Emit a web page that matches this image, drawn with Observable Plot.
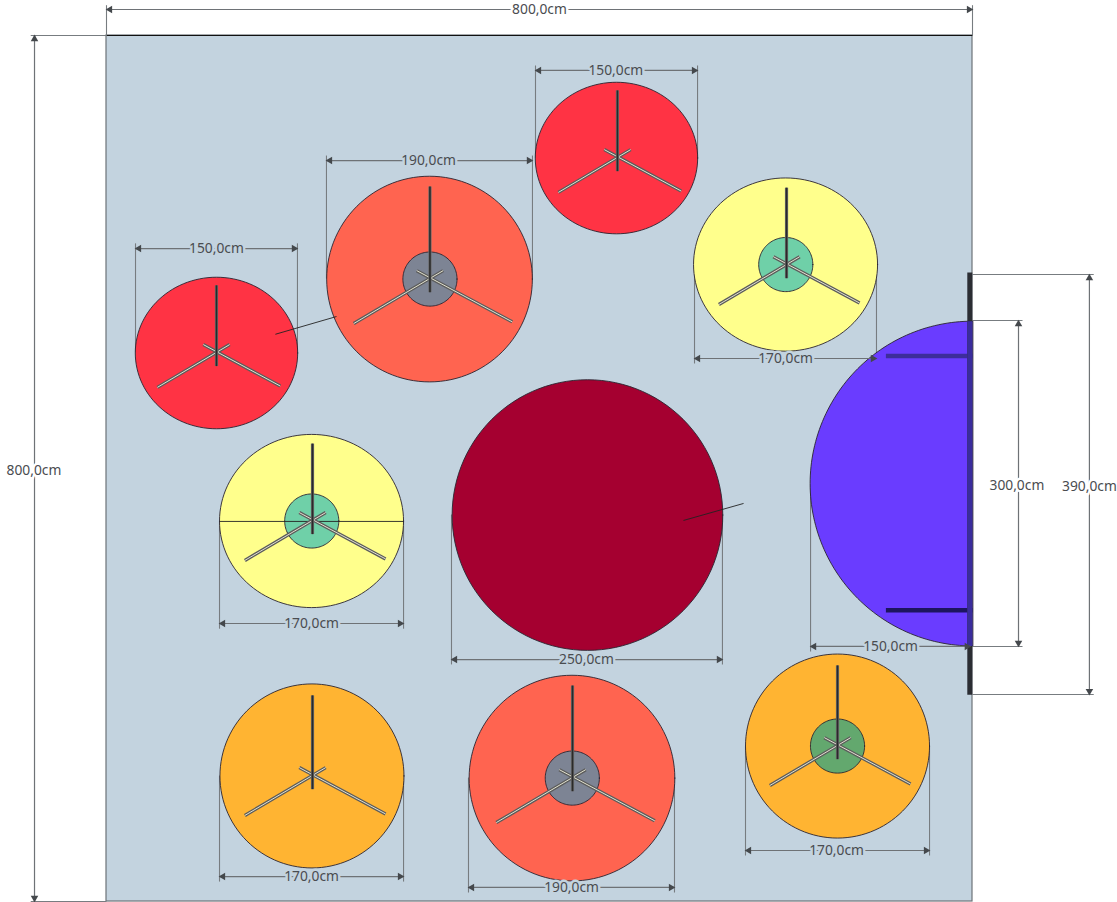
<!DOCTYPE html>
<html><head><meta charset="utf-8">
<script src="https://cdn.jsdelivr.net/npm/d3@7"></script>
<script src="https://cdn.jsdelivr.net/npm/@observablehq/plot@0.6"></script>
<style>html,body{margin:0;padding:0;background:#fff}svg{display:block}</style>
</head><body><div id="chart"></div>
<script>
// All plan values are centimetres on the 800 x 800 floor.
const floorSize = 800;
const plantKind = ["red","coral","red","yellow","yellow","maroon","orange","coral","orange"];
const plantCx   = [101.6,298.4,471.1,627.3,189.4,444.3,189.8,430,675.3];
const plantCy   = [293.3,225,113.2,211.6,448.5,443,684,686,656.4];
const plantRx   = [75,95,75,85,85,125,85,95,85];
const plantRy   = [70,95,70,80,80,125,85,95,85];

const hubKind = ["grey","green","green","grey","darkgreen"];
const hubCx   = [298.8,627.5,189.6,430.3,675.3];
const hubCy   = [225,211.6,448.5,686,656.4];
const hubR    = [25,25,25,25,25];

const standX   = [101.6,298.8,472,628.2,190.3,190.3,430.5,675.3];
const standY   = [292.8,224.5,112.7,211.6,448,683.6,685.5,655.9];
const standUp  = [62,85,62,71,71,74,85,74];
const standLen = [62,80,62,71,71,71,80,71];

const stageCentre = [800,413.9], stageRadius = 150;
const wallSpan = [219,609];
const stageBeams = [[720,800,296],[720,800,531]];

// dimension lines: [x1,y1,x2,y2,labelX,labelY,label,outside]
const dimensions = [
 [0,-24,800,-24,400,-24,"800,0cm",1],
 [-66.5,0,-66.5,800,-67,402,"800,0cm",1],
 [396.3,32.3,546,32.3,470.5,32.3,"150,0cm",0],
 [203.2,115.5,393.5,115.5,297.5,115.5,"190,0cm",0],
 [26.8,196.8,176.4,196.8,101.6,196.8,"150,0cm",0],
 [543.2,298.4,711.3,298.4,627.3,298.4,"170,0cm",0],
 [104.4,543.2,274.4,543.2,189.4,543.2,"170,0cm",0],
 [318.7,576.5,569,576.5,443.4,576.5,"250,0cm",0],
 [104.4,777,274.4,777,189.4,777,"170,0cm",0],
 [334.4,787,524.7,787,429.6,787,"190,0cm",0],
 [590.3,752.9,760.3,752.9,674.4,752.9,"170,0cm",0],
 [650.4,564.4,798,564.4,724.3,564.4,"150,0cm",0],
 [842.5,263.3,842.5,564.4,841,415.7,"300,0cm",1],
 [908,220.8,908,608.8,908,416.6,"390,0cm",1]
];
// extension lines: [x1,y1,x2,y2]
const extensions = [
 [0,-28,0,0],[800,-28,800,0],[-70,0,0,0],[-70,800,0,800],
 [396.3,27.7,396.3,113],[546,27.7,546,113],
 [203.2,110.9,203.2,224.5],[393.5,110.9,393.5,224.5],
 [26.8,192,26.8,293],[176.4,192,176.4,293],
 [543.2,211.6,543.2,303],[711.3,211.6,711.3,303],
 [104.4,448.5,104.4,548],[274.4,448.5,274.4,548],
 [318.7,442.5,318.7,581],[569,442.5,569,581],
 [104.4,683.6,104.4,781.6],[274.4,683.6,274.4,781.6],
 [334.4,685.5,334.4,791.7],[524.7,685.5,524.7,791.7],
 [590.3,656,590.3,757.5],[760.3,656,760.3,757.5],
 [650.4,413.9,650.4,569],
 [800,263.3,846.2,263.3],[800,564.4,846.2,564.4],
 [800,220.8,912,220.8],[800,608.8,912,608.8]
];
// thin black leaders and the chord drawn across one plant
const leaders = [[156,276,212.5,259.6],[533,448,588.5,432.3],[104.4,448.9,274.4,448.9]];

const palette = {red:"#ff3344",coral:"#ff6450",yellow:"#ffff8c",maroon:"#a50030",orange:"#ffb432",
  grey:"#7d8494",green:"#6fd0a8",darkgreen:"#63a86e",stage:"#6a3cff"};

function outline(id,kind,cx,cy,rx,ry,a0=0,a1=360){
  const n=120, pts=[];
  for(let i=0;i<=n;i++){const a=(a0+(a1-a0)*i/n)*Math.PI/180;
    pts.push({id,color:palette[kind],x:cx+rx*Math.cos(a),y:cy+ry*Math.sin(a)});}
  return pts;
}
const shapes = [
  ...outline("stage","stage",stageCentre[0],stageCentre[1],stageRadius,stageRadius,90,270),
  ...plantKind.flatMap((k,i)=>outline("p"+i,k,plantCx[i],plantCy[i],plantRx[i],plantRy[i])),
  ...hubKind.flatMap((k,i)=>outline("h"+i,k,hubCx[i],hubCy[i],hubR[i],hubR[i]))
];
const tail = 14;
const uprights = standX.map((x,i)=>({x1:x,y1:standY[i]+tail*0.9,x2:x,y2:standY[i]-standUp[i]}));
const braces = standX.flatMap((x,i)=>{const L=standLen[i],y=standY[i];return [
  {x1:x+0.87*tail,y1:y-0.52*tail,x2:x-0.88*L,y2:y+0.52*L},
  {x1:x-0.87*tail,y1:y-0.52*tail,x2:x+0.95*L,y2:y+0.5*L}];});

const toLink = a => ({x1:a[0],y1:a[1],x2:a[2],y2:a[3]});
const dims = dimensions.map(d=>({x1:d[0],y1:d[1],x2:d[2],y2:d[3],lx:d[4],ly:d[5],label:d[6],bg:d[7]?"#ffffff":"#c3d3df"}));
const heads = dimensions.flatMap(d=>{
  const o=3.2;
  return d[1]===d[3]
    ? [{x:d[0]+o,y:d[1],r:-90},{x:d[2]-o,y:d[3],r:90}]
    : [{x:d[0],y:d[1]+o,r:0},{x:d[2],y:d[3]-o,r:180}];
});
const L = (data,o)=>Plot.link(data,{x1:"x1",y1:"y1",x2:"x2",y2:"y2",...o});
const beam = b=>({x1:b[0],x2:b[1],y1:b[2],y2:b[2]});

const chart = Plot.plot({
  width:1117,height:902,margin:0,
  style:{background:"transparent"},
  x:{domain:[0,floorSize],range:[106,972],axis:null},
  y:{domain:[0,floorSize],range:[35,901],axis:null},
  color:{type:"identity"},
  marks:[
    Plot.rect([{x1:0,x2:floorSize,y1:0,y2:floorSize}],{x1:"x1",x2:"x2",y1:"y1",y2:"y2",fill:"#c3d3df",stroke:"#6d7378",strokeWidth:1.2}),
    L([{x1:0,y1:0,x2:floorSize,y2:0}],{stroke:"#111",strokeWidth:1.2}),
    L(extensions.map(toLink),{stroke:"#777c80",strokeWidth:1.1}),
    Plot.line(shapes,{x:"x",y:"y",z:"id",fill:"color",stroke:"#2a2430",strokeWidth:0.9,curve:"linear-closed"}),
    L(leaders.map(toLink),{stroke:"#222",strokeWidth:0.9}),
    L(braces,{stroke:"#5c5c5c",strokeWidth:3.4}),
    L(braces,{stroke:"#e2e2cf",strokeWidth:1}),
    L(uprights,{stroke:"#6a6a6a",strokeWidth:3.2}),
    L(uprights,{stroke:"#2a2a2a",strokeWidth:1.6}),
    L([beam(stageBeams[0])],{stroke:"#3d2d9b",strokeWidth:4.5}),
    L([beam(stageBeams[1])],{stroke:"#1d1560",strokeWidth:4.5}),
    L([{x1:floorSize-2.5,y1:wallSpan[0],x2:floorSize-2.5,y2:wallSpan[1]}],{stroke:"#2b2d33",strokeWidth:5}),
    L([{x1:floorSize-2.5,y1:stageCentre[1]-stageRadius,x2:floorSize-2.5,y2:stageCentre[1]+stageRadius}],{stroke:"#3a2c9c",strokeWidth:5}),
    L(dims,{stroke:"#6e7276",strokeWidth:1.2}),
    Plot.dot(heads,{x:"x",y:"y",rotate:"r",symbol:"triangle2",r:3.6,fill:"#44484c",stroke:"none"}),
    Plot.text(dims,{x:"lx",y:"ly",text:"label",fontFamily:"Noto Sans",fontSize:13.8,fill:"#4a4c50",stroke:"bg",strokeWidth:5})
  ]
});
document.getElementById("chart").append(chart);
</script></body></html>
